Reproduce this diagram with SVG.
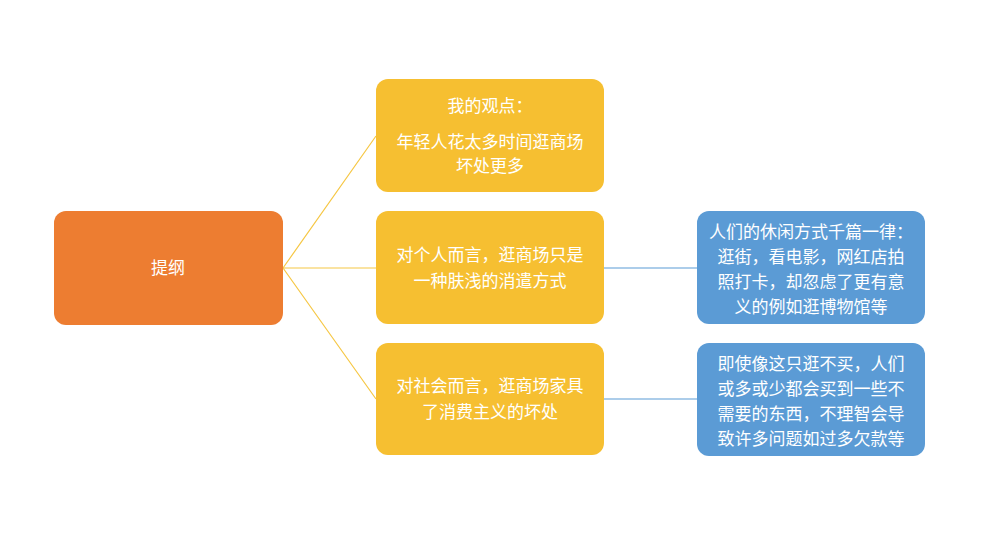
<svg xmlns="http://www.w3.org/2000/svg" width="1008" height="546" viewBox="0 0 1008 546">
<style>
.n{stroke:none}
.o{fill:#ED7D31}.y{fill:#F6BF31}.b{fill:#5B9BD5}
text{font-family:"Noto Sans CJK SC","Liberation Sans",sans-serif;font-size:17px;fill:#fff;text-anchor:middle}
.c1{stroke:#F6C744;stroke-width:1.2;fill:none}
.c2{stroke:#5B9BD5;stroke-width:1.2;fill:none}
</style>
<rect width="1008" height="546" fill="#fff"/>
<g id="connectors">
<path class="c1" d="M283 268 L376 136 M283 268 L376 268 M283 268 L376 399"/>
<path class="c2" d="M604 268 L697 268 M604 399 L697 399"/>
</g>
<g id="root"><rect class="o" x="54" y="211" width="229" height="114" rx="12"/><text x="168" y="274">提纲</text></g>
<g id="n1"><rect class="y" x="376" y="79" width="228" height="113" rx="12"/>
<text x="490" y="112">我的观点：</text><text x="490" y="148">年轻人花太多时间逛商场</text><text x="490" y="172">坏处更多</text></g>
<g id="n2"><rect class="y" x="376" y="211" width="228" height="113" rx="12"/>
<text x="490" y="261">对个人而言，逛商场只是</text><text x="490" y="287">一种肤浅的消遣方式</text></g>
<g id="n3"><rect class="y" x="376" y="343" width="228" height="112" rx="12"/>
<text x="490" y="392">对社会而言，逛商场家具</text><text x="490" y="418">了消费主义的坏处</text></g>
<g id="n4"><rect class="b" x="697" y="211" width="228" height="113" rx="12"/>
<text x="811" y="238">人们的休闲方式千篇一律：</text><text x="811" y="263">逛街，看电影，网红店拍</text><text x="811" y="288">照打卡，却忽虑了更有意</text><text x="811" y="313">义的例如逛博物馆等</text></g>
<g id="n5"><rect class="b" x="697" y="343" width="228" height="113" rx="12"/>
<text x="811" y="370">即使像这只逛不买，人们</text><text x="811" y="395">或多或少都会买到一些不</text><text x="811" y="420">需要的东西，不理智会导</text><text x="811" y="445">致许多问题如过多欠款等</text></g>
</svg>
